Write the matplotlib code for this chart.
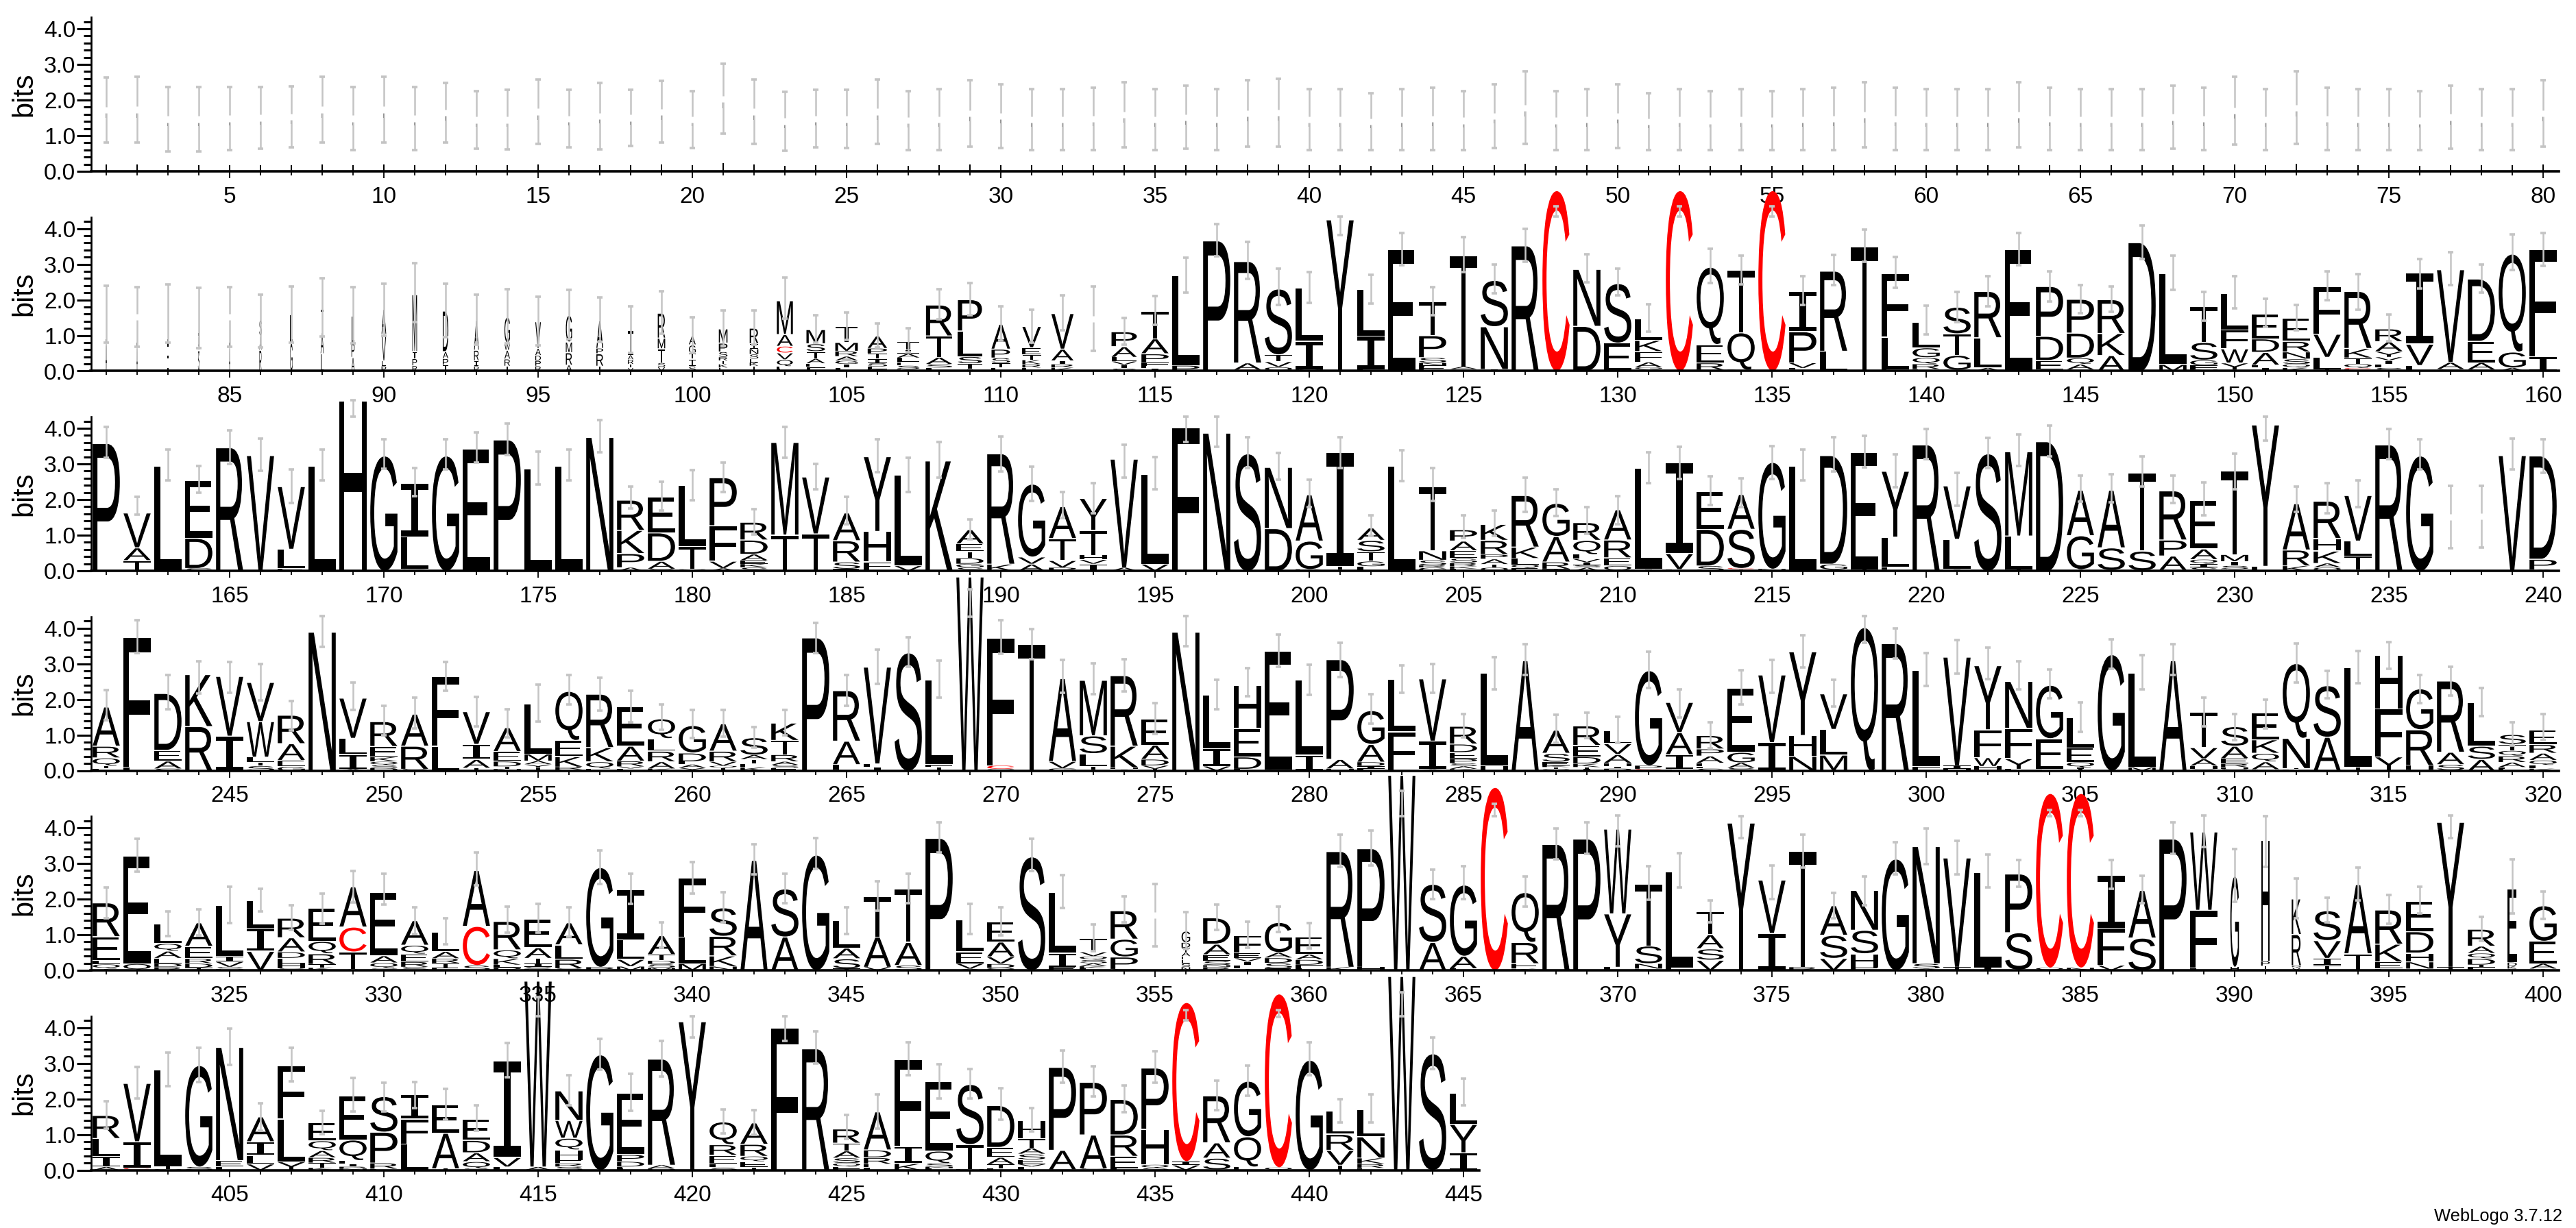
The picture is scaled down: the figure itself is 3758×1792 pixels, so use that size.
import matplotlib
matplotlib.use('Agg')
import matplotlib.pyplot as plt
from matplotlib.font_manager import FontProperties
from matplotlib.patches import PathPatch
from matplotlib.textpath import TextPath
from matplotlib.transforms import Affine2D

# Pilhas de letras por posicao: de baixo para cima, letra + altura em bits
stacks_row1 = ["I%.2f" % h for h in [
    1.72, 1.73, 1.46, 1.46, 1.48, 1.50, 1.53, 1.73, 1.48, 1.73, 1.48, 1.65, 1.45, 1.45, 1.67, 1.48, 1.55, 1.50, 1.67, 1.46,
    2.04, 1.67, 1.41, 1.48, 1.47, 1.67, 1.43, 1.45, 1.62, 1.55, 1.45, 1.45, 1.47, 1.58, 1.45, 1.52, 1.45, 1.62, 1.65, 1.45,
    1.45, 1.40, 1.45, 1.47, 1.42, 1.55, 1.78, 1.42, 1.45, 1.55, 1.40, 1.45, 1.42, 1.45, 1.42, 1.45, 1.47, 1.58, 1.47, 1.45,
    1.45, 1.45, 1.58, 1.47, 1.45, 1.45, 1.45, 1.52, 1.47, 1.70, 1.45, 1.78, 1.47, 1.45, 1.45, 1.42, 1.52, 1.45, 1.45, 1.62]]

stacks_row2 = [
    "A.8 L.8", "A.7 L.95", "E.8 L.8", "S.6 A.4 L.65", "A.7 L.95", "R.6 A.4 S.45", "G.8 L.8", "L.5 A.6 T.66",
    "A.4 P.4 L.75", "P.15 L.15 V.75 A.7", "R.16 P.2 T.2 M1.6", "T.18 P.18 A.2 D1.14", "P.15 I.15 R.3 A.84",
    "T.15 R.2 A.25 W.2 G.73", "R.15 P.15 D.15 A.2 V.75", "A.18 R.35 M.3 G.75", "T.15 R.35 P.15 A.78", "V.1 T.1 R.13 A.13 I.7",
    "V.12 S.12 T.4 M.3 R.7", "S.15 I.2 T.15 G.25 A.26", "E.1 K.1 T.1 R.1 S.15 P.25 M.4", "T.15 K.1 E.1 S.13 N.15 I.15 R.44",
    "L.07 E.07 Q.19 V.19 C.19 A.33 M.95", "F.12 E.1 A.14 T.2 S.22 M.4", "L.1 I.1 G.1 A.12 R.15 M.25 T.45",
    "K.05 L.08 S.1 I.12 T.15 P.15 A.35", "K.06 S.1 E.1 L.12 A.12 I.1 T.25", "L.1 S.1 A.2 T.6 R.87", "I.06 T.16 S.2 L.72 P.88",
    "L.1 T.13 S.15 P.25 A.7", "L.1 R.1 K.12 T.15 E.2 V.6", "K.1 R.1 I.1 A.33 V1.0", "I1.46", "S.08 I.1 V.1 L.12 A.3 P.42",
    "I.08 E.07 F.1 P.25 A.42 T.78", "P.17 L2.53", "P3.67", "C.04 A.2 R2.85", "Q.12 V.15 T.2 S1.85", "M.05 I.8 L1.5", "Y4.26",
    "F.05 I.95 L1.3", "E3.42", "K.05 E.06 F.05 N.08 S.15 P.62 T.95", "S.06 A.07 T3.13", "I.06 N1.2 S1.3", "R3.53", "C5.08",
    "D1.27 N1.6", "E.8 S1.67", "Y.06 G.05 A.15 F.3 K.32 L.6", "C5.08", "K.04 R.2 E.52 Q2.17", "N.04 Q1.05 T1.75", "C5.08",
    "S.04 L.05 V.15 P.88 I1.14", "L.57 R2.25", "T3.51", "E.05 L.92 F1.78", "F.06 R.15 Q.18 G.28 L.72", "Y.04 G.42 T.6 S.75",
    "A.1 L.85 R1.3", "E3.42", "G.04 E.27 D.68 P1.4", "S.05 A.15 Q.18 D.7 P.95", "A.45 K.62 R.95", "D3.62", "M.2 L2.56",
    "N.05 F.12 G.15 S.5 T1.0", "T.04 Y.2 W.4 F.53 L1.03", "I.1 L.08 A.36 D.38 E.7", "K.1 Q.1 S.15 N.2 R.3 E.66",
    "T.05 L.35 V.65 F1.34", "E.05 C.04 Q.12 T.17 K.27 R1.6", "S.1 L.1 I.1 V.1 Y.16 A.28 R.36", "L.17 V.6 I2.0", "S.06 A.2 V2.6",
    "G.05 A.2 E.6 D1.75", "A.1 G.45 Q2.75", "I.42 F3.0"]

stacks_row3 = [
    "P3.59", "T.3 A.36 V.98", "L2.95", "S.08 D.85 E1.62", "R3.47", "V3.25", "E.07 L.55 V1.76", "L2.95", "H4.79", "G3.24",
    "G.05 L.92 I1.5", "G3.24", "E3.43", "P3.69", "L2.87", "L2.95", "N3.76", "A.1 P.4 K.65 R.85", "S.06 A.22 D.8 E1.0",
    "V.05 T.65 L1.72", "A.08 V.2 F1.0 P1.35", "S.1 K.1 E.1 A.18 D.4 R.5", "I.02 T1.0 M2.6", "T1.05 V1.6", "E.06 S.2 R.6 A.78",
    "C.02 F.25 H.85 Y2.1", "V.15 L2.55", "K3.1", "S.1 G.1 D.17 T.18 E.22 A.4", "K.2 R3.1", "A.2 V.2 G2.05", "P.1 V.2 T.62 A.9",
    "I.2 V.12 H.13 T.7 Y.9", "A.1 V3.05", "V.2 L2.53", "F4.04", "N3.88", "S3.3", "D1.2 N1.72", "K.05 G.8 A1.3", "L.03 T.1 I3.2",
    "L.13 G.15 T.27 S.32 A.35", "L2.95", "G.1 R.06 S.15 N.27 T1.8", "L.06 K.07 R.1 S.13 E.22 A.27 P.32", "Q.1 T.09 A.15 P.13 R.4 K.45",
    "E.08 Q.1 L.18 K.32 R1.45", "T.06 R.2 A.72 G.93", "A.1 S.06 I.08 V.1 L.13 Q.4 R.5", "Q.15 E.23 R.5 A.85", "I.05 L2.85",
    "L.05 V.45 I2.55", "S.15 D1.03 E1.06", "T.05 C.03 S1.1 A.98", "N.06 G3.0", "L2.95", "A.04 G.16 D3.05", "T.04 E3.3",
    "I.03 F.08 L.85 Y1.85", "R3.55", "I.05 L.85 V1.5", "S3.3", "T.04 L.95 M2.37", "D3.64", "T.05 G.95 A1.28", "T.03 S.63 A1.62",
    "L.02 S.55 T2.2", "L.03 A.4 P.45 R1.38", "S.1 I.1 Q.13 A.3 E1.37", "L.05 S.1 I.12 M.2 T2.35", "F.14 Y3.97", "K.15 R.45 A1.3",
    "Q.1 A.12 K.35 H.35 R1.05", "M.03 T.4 L.42 V1.28", "R3.55", "G3.24", "I1.5", "I1.5", "V3.25", "A.04 P.3 D2.9"]

stacks_row4 = [
    "L.06 T.08 Q.23 R.33 A1.1", "L.1 F3.65", "S.06 A.22 E.3 D1.6", "R1.25 K1.46", "I.98 V1.68", "S.14 T.1 L.15 W1.0 V1.1",
    "G.12 E.18 A.47 R.8", "N3.9", "A.05 I.42 L.45 V1.13", "D.08 S.08 Q.1 K.13 E.3 R.7", "S.05 R.65 A.9", "L.7 F1.95",
    "T.08 A.25 I.42 V.92", "N.05 T.07 D.15 E.28 A.67", "T.08 Y.1 A.1 M.2 L1.4", "L.03 R.08 K.3 E.45 Q1.38", "E.06 Q.2 K.4 R1.5",
    "L.06 V.06 R.16 A.42 E1.1", "K.06 A.2 R.3 L.35 Q.56", "Y.08 A.1 L.08 D.25 G.77", "T.08 Q.06 V.12 R.3 A.77", "K.1 E.1 T.12 A.13 S.49",
    "E.08 S.08 A.1 R.2 T.4 K.49", "P3.74", "V.02 L.16 A.66 R1.42", "I.1 L.1 V2.72", "S3.32", "T.1 F.08 L2.38", "W5.45", "Q.05 C.1 F3.58",
    "T3.56", "G.07 V.2 A2.33", "H.02 T.1 L.37 S.5 M1.56", "I.04 H.06 K.6 R1.98", "T.05 V.1 D.18 A.4 E.73", "N3.9", "V.13 I.5 L1.5",
    "L.05 D.35 E.8 H1.2", "S.02 E3.35", "I.45 L2.1", "H.06 A.27 P2.8", "L.05 I.08 D.12 A.5 G.95", "F1.1 L1.48", "A.04 I.8 V1.75",
    "K.05 A.08 S.08 P.13 E.18 D.24 R.5", "H.15 L2.6", "A3.1", "Q.05 T.05 K.05 E.1 S.25 A.65", "I.05 T.05 K.1 D.2 E.32 R.55",
    "P.06 I.06 H.1 A.25 V.3 L.37", "S.03 C.02 P.1 G2.67", "L.04 I.42 A.62 V.85", "S.06 L.06 F.1 A.2 P.2 R.38", "S.08 A.15 G.3 E1.8",
    "I.8 V1.9", "N.42 H.58 Y2.35", "M.45 L.72 V1.0", "Q4.03", "R3.58", "F.12 L2.7", "H.05 I.1 V3.05", "C.03 H.1 W.25 F.78 Y1.8",
    "L.05 Y.3 F.85 N1.32", "L.04 E.87 G1.5", "T.05 I.04 Q.16 E.4 L.85", "G3.27", "M.1 L2.66", "A3.1", "S.04 H.1 A.2 V.32 T1.0",
    "Q.05 H.05 R.1 E.15 A.35 S.55", "L.04 A.22 Q.24 K.38 E.75", "L.04 T.03 N.85 Q2.1", "A.95 S1.45", "T.1 L2.8", "Y.4 F1.35 H1.5",
    "S.03 H.13 R1.0 G1.15", "T.02 S.16 A.35 R2.0", "A.33 S.37 L1.22", "E.05 L.05 A.14 R.18 Q.15 T.18 S.28", "K.06 L.1 Q.14 A.2 R.25 E.4"]

stacks_row5 = [
    "T.05 Q.13 L.1 E.68 R.95", "Q.2 E3.03", "R.1 D.1 E.15 A.2 Q.22 L.55", "T.08 D.12 R.14 E.35 A.66", "H.05 S.05 V.15 I.15 L1.44",
    "V.55 I.65 L.77", "S.06 H.14 E.15 D.18 A.4 R.55", "K.08 T.1 R.3 Q.35 E.93", "A.03 T.5 C.7 A1.13", "K.03 S.04 Q.15 A.2 E1.78",
    "S.1 R.15 E.22 Q.25 A.69", "E.08 T.13 R.13 A.2 L.54", "S.15 C1.1 A1.57", "P.08 L.08 K.18 Q.25 R.8", "R.05 S.05 I.1 T.15 A.3 E.8",
    "S.06 R.27 L.4 A.62", "P.1 G2.8", "M.12 V.2 L.55 I1.41", "M.08 S.1 D.1 T.18 A.53", "M.2 L.75 F1.65", "N.12 K.3 R.55 S.8", "A3.1",
    "A.95 S1.35", "G3.25", "T.06 S.28 A.3 L.77", "V.1 A.85 T1.13", "S.15 A.65 T1.5", "P3.72", "A.05 V.15 E.33 L.9",
    "Q.07 D.12 V.2 A.42 E.57", "S3.2", "E.1 I.4 L1.7", "L.06 K.06 A.08 S.1 Q.1 V.12 T.39", "S.04 P.35 G.5 R.8", "I1.55",
    "N.1 S.1 L.1 E.1 A.12 T.12 D.15 G.33", "R.1 N.05 S.12 E.18 A.3 D.74", "T.05 L.1 I.1 V.1 E.15 F.5", "E.06 S.15 D.15 A.15 G.85",
    "L.06 F.1 D.15 A.15 E.5", "K.1 R3.25", "H.1 P3.33", "W5.49", "A.8 S1.63", "L.06 A.35 G2.0", "C5.15", "K.05 E.15 R.6 Q1.4", "R3.55",
    "P3.7", "L.1 Y1.5 W2.38", "E.05 N.15 S.5 T1.74", "F.1 L2.68", "V.3 S.32 A.4 T.65", "Y4.15", "I1.05 V1.5", "R.1 T3.25", "V.35 S.65 A.83",
    "E.08 H.4 S.66 N1.12", "G3.14", "A.05 S.15 N3.29", "T.1 V3.07", "I.1 L2.67", "Y.02 S1.05 P1.65", "Q.08 C4.9", "N.08 C4.9",
    "V.15 F1.05 I1.48", "S.92 A1.34", "P3.7", "L.07 F1.63 W2.2", "H.1 G2.56", "S.03 T.1 P.14 H3.4", "V.08 Q.07 R.87 K1.0", "T.15 I.2 V.5 S.84",
    "T.48 A1.94", "L.05 E.2 K.5 R.96", "T.05 N.2 H.25 D.6 E.86", "T.1 Y4.07", "F.1 T.06 D.18 Q.15 A.2 R.48", "S.05 K.08 D.1 E2.07", "T.05 A.15 E.63 G1.0"]

stacks_row6 = [
    "A.1 I.3 L.5 R.65", "E.02 C.04 I.75 V1.64", "Q.03 T.1 L2.7", "S.1 G2.85", "L.1 E.18 N3.18", "V.18 L.25 I.38 A.7", "Y.25 L1.2 F1.5",
    "K.07 T.14 R.15 A.2 Q.28 E.5", "N.05 R.05 I.08 F.1 Q.58 E1.24", "L.04 R.17 P.87 S1.0", "L.75 F.7 I.69", "T.05 A1.0 E.8",
    "S.05 Q.2 A.25 D.35 E.6", "L.1 V.27 I2.71", "A.1 W5.22", "S.1 R.1 E.08 H.3 Q.33 W.5 N.83", "G3.25", "L.05 F.05 D.15 P.2 E1.73",
    "D.05 A.1 R2.98", "T.05 Y4.13", "S.08 L.1 E.25 R.3 Q.64", "T.08 E.17 Q.15 R.34 A.6", "F4.0", "R3.42", "F.1 Q.1 S.15 A.2 T.22 R.4",
    "L.08 E.1 R.18 D.22 A1.07", "K.2 I.48 F2.44", "L.05 N.05 S.1 Q.35 E1.96", "N.03 T.7 S1.69", "L.05 T.12 A.2 E.28 D1.18",
    "L.1 V.07 E.13 S.16 A.17 T.27 H.5", "K.02 A.55 P2.33", "S.05 A.95 P1.48", "L.05 E.35 R.6 D1.0", "S.06 Q.1 H1.0 P1.72",
    "V.15 I.1 C4.47", "E.02 S.33 A.43 R1.32", "E.1 Q.85 G1.56", "Q.08 C4.88", "G3.1", "T.15 V.42 R.45 L.65", "E.06 R.12 K.17 N.6 L.76",
    "W5.45", "S3.28", "I.5 Y.8 L.88"]

# Barras de erro: limite superior e inferior em bits
err_top_row1 = [2.64, 2.66, 2.37, 2.37, 2.37, 2.37, 2.39, 2.66, 2.37, 2.66, 2.37, 2.49, 2.26, 2.28, 2.58, 2.28, 2.49, 2.29, 2.53, 2.26,
                3.02, 2.58, 2.24, 2.28, 2.28, 2.58, 2.26, 2.3, 2.55, 2.45, 2.3, 2.3, 2.35, 2.5, 2.3, 2.4, 2.3, 2.55, 2.6, 2.3,
                2.3, 2.2, 2.3, 2.35, 2.25, 2.45, 2.8, 2.25, 2.3, 2.45, 2.2, 2.3, 2.25, 2.3, 2.25, 2.3, 2.35, 2.5, 2.35, 2.3,
                2.3, 2.3, 2.5, 2.35, 2.3, 2.3, 2.3, 2.4, 2.35, 2.65, 2.3, 2.8, 2.35, 2.3, 2.3, 2.25, 2.4, 2.3, 2.3, 2.55]
err_bot_row1 = [.8, .8, .55, .55, .59, .63, .67, .8, .59, .8, .59, .8, .63, .61, .76, .67, .61, .71, .8, .65,
                1.05, .76, .57, .67, .65, .76, .6, .6, .7, .65, .6, .6, .6, .67, .6, .63, .6, .7, .7, .6,
                .6, .6, .6, .6, .6, .65, .76, .6, .6, .65, .6, .6, .6, .6, .6, .6, .6, .67, .6, .6,
                .6, .6, .67, .6, .6, .6, .6, .64, .6, .75, .6, .76, .6, .6, .6, .6, .64, .6, .6, .7]

err_top_row2 = [2.40, 2.35, 2.43, 2.33, 2.35, 2.15, 2.37, 2.60, 2.35, 2.45, 3.03, 2.45, 2.14, 2.29, 2.08, 2.28, 2.06, 1.81, 2.24, 1.51, 1.70, 1.70, 2.62, 1.57, 1.65, 1.34,
                1.2, 2.29, 2.48, 1.81, 1.72, 2.12, 2.37, 1.49, 2.1, 3.19, 4.12, 3.62, 2.88, 2.78, 4.33, 2.71, 3.88, 2.35, 3.76, 2.99, 3.99, 4.62, 3.28, 2.88, 1.88, 4.62, 3.43, 3.25,
                4.62, 2.67, 3.26, 3.97, 3.2, 1.84, 2.22, 2.67, 3.88, 2.79, 2.42, 2.38, 4.09, 3.24, 2.22, 2.67, 2.02, 1.86, 2.79, 2.72, 1.58, 3.15, 3.33, 2.99, 3.83, 3.88]
err_bot_row2 = [.79, .68, .79, .64, .68, .67, .79, .97, .78, 1.0, 1.37, .95, .74, .78, .72, .89, .81, .51, 1.04, .51, .70, .74, 1.47, .8, .88, .66,
                .53, 1.46, 1.56, .85, .79, 1.14, .56, .74, 1.3, 2.21, 3.22, 2.58, 1.85, 1.92, 3.81, 1.89, 2.98, 1.56, 2.78, 2.18, 3.07, 4.33, 2.5, 2.12, 1.1, 4.33, 2.47, 2.44,
                4.33, 1.86, 2.42, 3.06, 2.33, 1.03, 1.38, 1.81, 2.98, 1.96, 1.63, 1.67, 3.15, 2.28, 1.41, 1.76, 1.25, 1.15, 1.99, 1.73, .83, 2.31, 2.42, 2.2, 2.84, 2.95]

err_top_row3 = [4.04, 2.08, 3.4, 2.95, 3.94, 3.72, 2.85, 3.4, 4.79, 3.69, 2.88, 3.69, 3.88, 4.13, 3.34, 3.4, 4.23, 2.36, 2.5, 2.82,
                3.03, 1.74, 4.04, 3.01, 2.08, 3.69, 3.18, 3.62, 1.45, 3.77, 2.92, 2.21, 2.47, 3.53, 3.19, 4.33, 4.33, 3.75, 3.31, 2.55,
                3.76, 1.56, 3.39, 2.88, 1.56, 1.69, 2.62, 2.29, 1.79, 2.1, 3.32, 3.49, 2.65, 2.6, 3.51, 3.4, 3.76, 3.78, 3.27, 3.99,
                2.76, 3.74, 3.83, 4.08, 2.67, 2.71, 3.22, 2.67, 2.49, 3.29, 4.33, 2.37, 2.47, 2.54, 3.99, 3.69, 2.39, 2.39, 3.71, 3.69]
err_bot_row3 = [3.18, 1.58, 2.54, 2.19, 3.0, 2.81, 1.91, 2.54, 4.33, 2.86, 2.09, 2.84, 3.03, 3.26, 2.42, 2.54, 3.33, 1.75, 1.69, 1.99,
                2.22, 1.01, 3.18, 2.28, 1.3, 2.77, 2.22, 2.62, .88, 2.79, 1.96, 1.49, 1.62, 2.62, 2.28, 3.61, 3.48, 2.88, 2.55, 1.78,
                2.89, .98, 2.52, 1.96, .92, .99, 1.65, 1.53, 1.04, 1.3, 2.46, 2.58, 1.85, 1.78, 2.57, 2.54, 2.79, 2.9, 2.34, 3.13,
                1.83, 2.89, 2.94, 3.22, 1.94, 1.92, 2.36, 1.9, 1.56, 2.28, 3.66, 1.65, 1.62, 1.79, 3.13, 2.84, .64, .66, 2.84, 2.76]

err_top_row4 = [2.26, 4.22, 2.68, 3.06, 3.04, 3.0, 1.96, 4.33, 2.47, 1.81, 2.05, 3.04, 2.06, 1.72, 2.42, 2.69, 2.6, 2.24, 1.85, 1.7,
                1.7, 1.23, 1.7, 4.15, 2.68, 3.4, 3.75, 3.08, 5.08, 4.23, 3.97, 3.1, 3.01, 3.13, 1.89, 4.33, 2.55, 2.88, 3.81, 2.97,
                3.59, 2.14, 2.96, 2.99, 1.58, 3.19, 3.54, 1.56, 1.62, 1.51, 3.33, 2.28, 1.35, 2.81, 3.11, 3.79, 2.54, 4.33, 4.0, 3.29,
                3.67, 3.46, 3.06, 2.84, 1.92, 3.69, 3.24, 3.54, 2.05, 1.59, 1.99, 3.56, 2.79, 3.35, 3.61, 2.69, 2.92, 2.31, 1.35, 1.59]
err_bot_row4 = [1.41, 3.3, 1.73, 2.17, 2.18, 1.97, 1.12, 3.48, 1.7, .99, 1.19, 2.24, 1.25, .93, 1.38, 1.86, 1.69, 1.35, 1.15, .92,
                .95, .64, .99, 3.3, 1.81, 2.44, 2.92, 2.05, 4.31, 3.27, 3.12, 2.18, 2.15, 2.23, 1.03, 3.49, 1.73, 2.08, 2.92, 2.12,
                2.63, 1.31, 2.18, 2.18, .93, 2.28, 2.68, .77, .92, .77, 2.31, 1.49, .62, 1.86, 2.18, 2.89, 1.79, 3.59, 3.14, 2.37,
                2.72, 2.56, 2.28, 2.02, 1.09, 2.85, 2.28, 2.69, 1.25, .85, 1.19, 2.47, 2.02, 2.46, 2.85, 1.9, 2.1, 1.52, .71, .85]

err_top_row5 = [2.33, 3.69, 1.65, 1.71, 2.35, 2.29, 1.83, 2.16, 2.79, 2.71, 1.76, 1.47, 3.3, 1.78, 1.86, 1.76, 3.37, 2.71, 1.35, 3.03,
                2.2, 3.53, 2.72, 3.71, 1.76, 2.5, 2.71, 4.15, 1.86, 1.76, 3.69, 2.67, 1.28, 2.08, 2.42, 1.63, 1.84, 1.36, 1.78, 1.33,
                3.81, 3.93, 5.03, 2.82, 2.92, 4.68, 2.63, 3.99, 4.15, 4.34, 2.92, 3.28, 1.97, 4.33, 2.94, 3.81, 2.18, 2.64, 3.6, 3.99,
                3.64, 3.26, 3.09, 4.5, 4.5, 3.09, 2.66, 4.15, 4.34, 3.41, 4.33, 2.58, 2.03, 2.88, 2.11, 2.35, 4.34, 1.5, 3.11, 2.22]
err_bot_row5 = [1.47, 2.77, .97, .99, 1.33, 1.65, 1.13, 1.31, 1.91, 1.85, 1.01, .74, 2.38, 1.06, 1.06, .95, 2.42, 1.86, .64, 2.15,
                1.35, 2.69, 1.89, 2.85, 1.01, 1.67, 1.89, 3.3, 1.01, .99, 2.79, 1.75, .54, 1.35, .67, .6, 1.14, .64, 1.07, .61,
                2.9, 2.94, 4.33, 2.0, 2.0, 4.33, 1.79, 3.11, 3.27, 3.49, 1.99, 2.32, 1.35, 3.72, 2.0, 2.88, 1.47, 1.83, 2.7, 2.98,
                2.69, 2.32, 2.34, 4.33, 4.33, 2.29, 1.88, 3.27, 3.46, 1.92, 2.9, 1.46, 1.35, 1.96, 1.31, 1.6, 3.72, .83, 1.6, 1.44]

err_top_row6 = [1.94, 2.9, 3.29, 3.43, 3.97, 1.87, 3.43, 1.66, 2.58, 2.46, 2.48, 2.27, 1.82, 3.56, 4.85, 2.66, 3.68, 2.71, 3.63, 4.32,
                1.71, 1.68, 4.32, 3.89, 1.54, 2.12, 3.58, 2.98, 2.83, 2.29, 1.74, 3.35, 2.91, 2.37, 3.33, 4.5, 2.51, 2.93, 4.5, 3.58,
                1.99, 2.12, 5.0, 3.73, 2.56]
err_bot_row6 = [1.17, 2.01, 2.35, 2.48, 2.96, 1.1, 2.5, 1.01, 1.65, 1.65, 1.74, 1.42, 1.1, 2.61, 4.31, 1.82, 2.81, 1.66, 2.63, 3.72,
                1.03, .99, 3.62, 2.99, .88, 1.17, 2.66, 2.01, 2.01, 1.42, 1.09, 2.46, 2.06, 1.62, 2.45, 4.21, 1.69, 2.08, 4.29, 2.67,
                1.33, 1.33, 4.31, 2.83, 1.81]

first_positions = [1, 81, 161, 241, 321, 401]
all_stacks = [stacks_row1, stacks_row2, stacks_row3, stacks_row4, stacks_row5, stacks_row6]
all_err_top = [err_top_row1, err_top_row2, err_top_row3, err_top_row4, err_top_row5, err_top_row6]
all_err_bot = [err_bot_row1, err_bot_row2, err_bot_row3, err_bot_row4, err_bot_row5, err_bot_row6]

# Largura relativa da pilha (posicoes com poucas sequencias ficam estreitas)
narrow_widths = {81: .05, 82: .04, 83: .05, 84: .05, 85: .04, 86: .07, 87: .08, 88: .1, 89: .1, 90: .15, 91: .15, 92: .18, 93: .15,
                 94: .18, 95: .18, 96: .2, 97: .22, 98: .18, 99: .24, 100: .22, 101: .28, 102: .28, 103: .52, 104: .6, 105: .73,
                 106: .63, 107: .73, 108: .85, 109: .78, 110: .6, 111: .6, 112: .72, 113: .01, 114: .82,
                 237: .01, 238: .01, 355: .01, 356: .28, 390: .28, 391: .28, 392: .3, 399: .3}
row1_width = .045
full_width = .88

W_PX, H_PX = 3758, 1792
LEFT_PX = 132.5
AXIS_W_PX = 3600
AXIS_H_PX = 224.6
BASELINES_PX = [250, 541.5, 833, 1124.5, 1416, 1707.5]

plt.rcParams['font.family'] = 'Liberation Sans'
letter_font = FontProperties(family='Liberation Sans')
i_font = FontProperties(family='Liberation Mono')

path_cache = {}

def letter_path(letra):
    if letra not in path_cache:
        fonte = i_font if letra == 'I' else letter_font
        path_cache[letra] = TextPath((0, 0), letra, size=1, prop=fonte)
    return path_cache[letra]

def draw_letter(ax, letra, x, y, largura, altura):
    path = letter_path(letra)
    box = path.get_extents()
    trans = (Affine2D().translate(-box.x0, -box.y0)
             .scale(largura / box.width, altura / box.height)
             .translate(x - largura / 2, y))
    cor = 'red' if letra == 'C' else 'black'
    ax.add_patch(PathPatch(path, facecolor=cor, edgecolor='none', lw=0, transform=trans + ax.transData,
                           clip_on=False, zorder=2))

fig = plt.figure(figsize=(W_PX / 100, H_PX / 100), dpi=100)

for first, stacks, tops, bots, base in zip(first_positions, all_stacks, all_err_top, all_err_bot, BASELINES_PX):
    ax = fig.add_axes([LEFT_PX / W_PX, 1 - base / H_PX, AXIS_W_PX / W_PX, AXIS_H_PX / H_PX])
    ax.patch.set_visible(False)
    ax.set_xlim(first - .5, first + 79.5)
    ax.set_ylim(0, 4.32)
    last = first + len(stacks) - 1

    xs = []
    for i, stack in enumerate(stacks):
        pos = first + i
        xs.append(pos)
        largura = narrow_widths.get(pos, row1_width if first == 1 else full_width)
        y = 0
        for item in stack.split():
            altura = float(item[1:])
            gap = min(.03, altura * .12)
            draw_letter(ax, item[0], pos, y, largura, altura - gap)
            y += altura

    mids = [(t + b) / 2 for t, b in zip(tops, bots)]
    halves = [(t - b) / 2 for t, b in zip(tops, bots)]
    eb = ax.errorbar(xs, mids, yerr=halves, fmt='none', ecolor='#c4c4c4', elinewidth=1.8, capsize=2.6, capthick=2.6, zorder=3)
    for artista in list(eb[1]) + list(eb[2]):
        artista.set_clip_on(False)

    # falha branca nas barras das posicoes quase vazias
    for x, m in zip(xs, mids):
        if narrow_widths.get(x, row1_width if first == 1 else full_width) < .05:
            ax.plot([x, x], [m - .09, m + .09], color='white', lw=2.4, zorder=4, solid_capstyle='butt')

    for lado in ['top', 'right']:
        ax.spines[lado].set_visible(False)
    ax.spines['left'].set_linewidth(1.9)
    ax.spines['bottom'].set_linewidth(2.6)
    ax.spines['bottom'].set_bounds(first - .5, last + .5)

    ax.set_yticks([0, 1, 2, 3, 4])
    ax.set_yticklabels(['0.0', '1.0', '2.0', '3.0', '4.0'])
    ax.set_yticks([v / 5 for v in range(0, 22) if v % 5 != 0], minor=True)
    majors = [p for p in range(first, last + 1) if p % 5 == 0]
    minors = [p for p in range(first, last + 1) if p % 5 != 0]
    ax.set_xticks(majors)
    ax.set_xticks(minors, minor=True)
    ax.tick_params(axis='y', which='major', length=15, width=2.2, labelsize=24, pad=1)
    ax.tick_params(axis='y', which='minor', length=8, width=2.2)
    ax.tick_params(axis='x', which='major', length=7.5, width=1.3, labelsize=24, pad=8)
    ax.tick_params(axis='x', which='minor', length=4, width=1.3)
    ax.set_ylabel('bits', fontsize=30, va='center')
    ax.yaxis.set_label_coords((35 - LEFT_PX) / AXIS_W_PX, .5)

fig.text(3738 / W_PX, 1 - 1775 / H_PX, 'WebLogo 3.7.12', fontsize=18.4, ha='right', va='center')

fig.savefig('out.png', dpi=100)
